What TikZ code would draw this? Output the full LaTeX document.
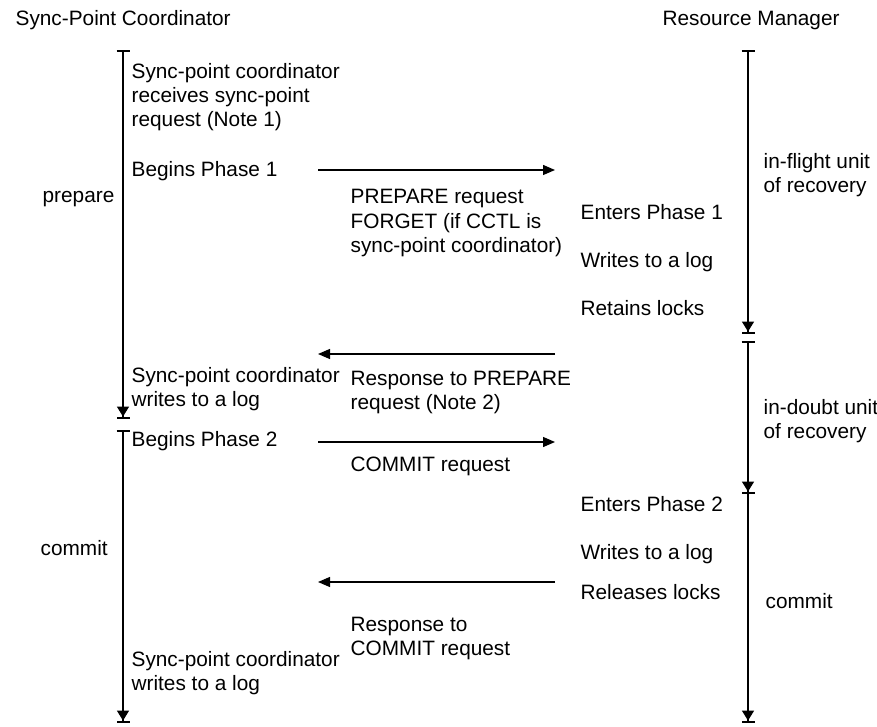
\documentclass[tikz,border=0pt]{standalone}
\usepackage{fontspec}
\setmainfont{Liberation Sans}
\usetikzlibrary{arrows.meta}

\begin{document}
\begin{tikzpicture}[x=1pt,y=-1pt,line width=1.3pt,
  every node/.style={inner sep=0pt,anchor=base west,align=left,font=\fontsize{20.8}{24}\selectfont}]
  \tikzstyle{life}=[{Bar[width=13pt,line width=2.4pt]}-{Triangle[width=12pt,length=10pt,sep=0pt]Bar[width=13pt,line width=2.4pt]}]
  \tikzstyle{lifeend}=[-{Triangle[width=12pt,length=10pt,sep=0pt]Bar[width=13pt,line width=2.4pt]}]
  \tikzstyle{msg}=[-{Triangle[width=10pt,length=12pt]}]

\useasboundingbox (0,0) rectangle (877,727);

\node (spc) at (15,26) {Sync-Point Coordinator};
\node (rm) at (662,26) {Resource Manager};

% time lines
\coordinate (l0) at (123,50);
\coordinate (l1) at (123,419);
\coordinate (l2) at (123,430);
\coordinate (l3) at (123,723);
\coordinate (r0) at (748,50);
\coordinate (r1) at (748,334);
\coordinate (r2) at (748,341);
\coordinate (r3) at (748,494);
\coordinate (r4) at (748,723);

\draw[life] (l0) -- (l1);
\draw[life] (l2) -- (l3);
\draw[life] (r0) -- (r1);
\draw[life] (r2) -- (r3);
\draw[lifeend] (r3) -- (r4);

% phases (multi-line nodes sit on their last line)
\node (ph_1) at (42,203) {prepare};
\node (ph_2) at (40,555) {commit};
\node (ur_1) at (763,193) {in-flight unit\\of recovery};
\node (ur_2) at (763,438) {in-doubt unit\\of recovery};
\node (ur_3) at (765,608) {commit};

% coordinator side
\node (c1) at (131,127) {Sync-point coordinator\\receives sync-point\\request (Note 1)};
\node (c2) at (131,177) {Begins Phase 1};
\node (c3) at (131,406) {Sync-point coordinator\\writes to a log};
\node (c4) at (131,446) {Begins Phase 2};
\node (c5) at (131,690) {Sync-point coordinator\\writes to a log};

% resource manager side
\node (r_1) at (580,219) {Enters Phase 1};
\node (r_2) at (580,267) {Writes to a log};
\node (r_3) at (580,315) {Retains locks};
\node (r_4) at (580,511) {Enters Phase 2};
\node (r_5) at (580,559) {Writes to a log};
\node (r_6) at (580,599) {Releases locks};

% flows
\coordinate (m1a) at (318,170);
\coordinate (m1b) at (555,170);
\coordinate (m2a) at (555,354);
\coordinate (m2b) at (318,354);
\coordinate (m3a) at (318,442);
\coordinate (m3b) at (555,442);
\coordinate (m4a) at (555,582);
\coordinate (m4b) at (318,582);

\draw[msg] (m1a) -- (m1b);
\draw[msg] (m2a) -- (m2b);
\draw[msg] (m3a) -- (m3b);
\draw[msg] (m4a) -- (m4b);

\node (f1) at (350,252) {PREPARE request\\FORGET (if CCTL is\\sync-point coordinator)};
\node (f2) at (350,409) {Response to PREPARE\\request (Note 2)};
\node (f3) at (350,471) {COMMIT request};
\node (f4) at (350,655) {Response to\\COMMIT request};

\end{tikzpicture}
\end{document}
